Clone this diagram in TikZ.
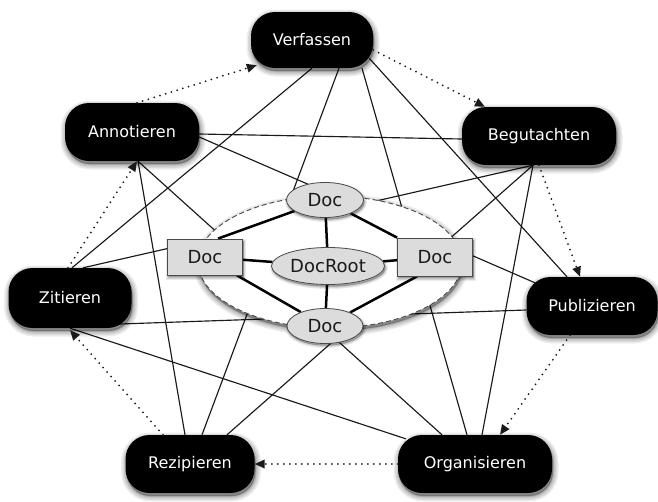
\documentclass[tikz,border=0pt]{standalone}
\usepackage{fontspec}
\setmainfont{DejaVu Sans}
\usetikzlibrary{arrows.meta,shapes.geometric}
\pgfdeclarelayer{back}
\pgfdeclarelayer{links}
\pgfdeclarelayer{pool}
\pgfdeclarelayer{bonds}
\pgfsetlayers{back,links,pool,bonds,main}
\definecolor{docfill}{HTML}{DCDCDC}
\definecolor{docline}{HTML}{4A4A4A}
\definecolor{ink}{HTML}{1A1A1A}
\tikzset{
  % soft shadow built from a few translucent halos
  halo/.style 2 args={preaction={solid, fill=black, fill opacity=#2,
      draw=black, draw opacity=#2, line width=#1,
      transform canvas={xshift=1pt, yshift=-3pt}}},
  soft shadow/.style={halo={11pt}{0.07}, halo={8pt}{0.08}, halo={5pt}{0.09},
      halo={2pt}{0.12}},
  small halo/.style 2 args={preaction={solid, fill=black, fill opacity=#2,
      draw=black, draw opacity=#2, line width=#1,
      transform canvas={xshift=1pt, yshift=-2pt}}},
  small shadow/.style={small halo={5pt}{0.08}, small halo={3pt}{0.09},
      small halo={1pt}{0.1}},
}
\begin{document}
\begin{tikzpicture}[x=1pt,y=-1pt,
  activity/.style={fill=black, text=white, rounded corners=24pt,
    minimum height=58pt, inner sep=0pt,
    font=\fontsize{16}{19}\selectfont, soft shadow},
  docnode/.style={fill=docfill, draw=docline, line width=0.8pt, text=ink,
    inner sep=0pt, font=\fontsize{18}{21}\selectfont, small shadow},
  docell/.style={docnode, ellipse},
  docbox/.style={docnode, rectangle},
  container/.style={ellipse, draw=docline, dash pattern=on 5pt off 3pt,
    line width=0.9pt, fill=white, soft shadow},
  link/.style={draw=ink, line width=1.15pt},
  bond/.style={draw=black, line width=2.5pt},
  flow/.style={draw=ink, line width=2pt, line cap=round,
    dash pattern=on 0pt off 6pt,
    -{Triangle[length=10pt,width=8.5pt]}}
]
\useasboundingbox (0,0) rectangle (658,501);
\begin{pgfonlayer}{back}
  \fill[white] (0,0) rectangle (658,501);
\end{pgfonlayer}

% activities around the document pool
\node[activity, minimum width=122pt, minimum height=56pt] (V) at (312,40) {Verfassen};
\node[activity, minimum width=134pt] (A) at (132,132) {Annotieren};
\node[activity, minimum width=154pt] (B) at (539,136) {Begutachten};
\node[activity, minimum width=123pt, minimum height=60pt] (Z) at (70,298) {Zitieren};
\node[activity, minimum width=131pt] (P) at (592,306) {Publizieren};
\node[activity, minimum width=129pt] (R) at (190,464) {Rezipieren};
\node[activity, minimum width=154pt] (O) at (475,464) {Organisieren};

% document pool
\begin{pgfonlayer}{pool}
  \node[container, minimum width=264pt, minimum height=132pt] (pool) at (330,262) {};
\end{pgfonlayer}
\node[docell, minimum width=77pt, minimum height=35pt] (dt) at (325,200) {Doc};
\node[docell, minimum width=113pt, minimum height=37pt] (root) at (328,266) {DocRoot};
\node[docell, minimum width=76pt, minimum height=35pt] (db) at (325,326) {Doc};
\node[docbox, minimum width=75pt, minimum height=36pt] (dl) at (205,257) {Doc};
\node[docbox, minimum width=75pt, minimum height=38pt] (dr) at (435,257) {Doc};

% structure of the document
\begin{pgfonlayer}{bonds}
  \draw[bond] (dt) -- ([xshift=13pt]dl.north);
  \draw[bond] (dt) -- (dr.north west);
  \draw[bond] (dt) -- (root);
  \draw[bond] (dl) -- (root);
  \draw[bond] (root) -- (dr);
  \draw[bond] (root) -- (db);
  \draw[bond] (dl) -- (db);
  \draw[bond] ([xshift=-18pt]dr.south) -- (db);
\end{pgfonlayer}

% links between the activities
\begin{pgfonlayer}{links}
  \draw[link] (V.south) -- ([xshift=2pt]Z.north);
  \draw[link] ([xshift=27pt]V.south) -- ([xshift=12pt]R.north);
  \draw[link] ([xshift=50pt]V.south) -- ([xshift=-8pt]O.north);
  \draw[link] ([xshift=-4pt,yshift=10pt]V.south east) -- ([xshift=-25pt]P.north);
  \draw[link] ([yshift=-2pt]A.east) -- ([yshift=-3pt]B.west);
  \draw[link] ([yshift=-5pt]A.east) -- ([xshift=-57pt,yshift=-6pt]P.north);
  \draw[link] ([xshift=6pt]A.south) -- ([xshift=-5pt]R.north);
  \draw[link] ([xshift=6pt]A.south) -- ([xshift=-33pt]O.north);
  \draw[link] ([xshift=13pt]Z.north) -- ([xshift=-6pt]B.south);
  \draw[link] ([xshift=-12pt,yshift=-26pt]Z.east) -- ([yshift=-4pt]P.west);
  \draw[link] ([xshift=8pt,yshift=-4pt]O.north west) -- (Z.south);
  \draw[link] ([xshift=37pt]R.north) -- ([xshift=-6pt]B.south);
  \draw[link] ([xshift=-6pt]B.south) -- ([xshift=7pt]O.north);
\end{pgfonlayer}

% workflow cycle
\draw[flow] ([xshift=5pt]A.north) -- ([xshift=6pt,yshift=3pt]V.south west);
\draw[flow] ([yshift=-10pt]V.east) -- ([xshift=-54pt]B.north);
\draw[flow] (B.south) -- ([xshift=-12pt]P.north);
\draw[flow] ([xshift=-22pt]P.south) -- ([xshift=25pt]O.north);
\draw[flow] (O.west) -- (R.east);
\draw[flow] ([xshift=-27pt]R.north) -- ([yshift=-2pt]Z.south);
\draw[flow] ([xshift=-2pt]Z.north) -- ([xshift=5pt]A.south);
\end{tikzpicture}
\end{document}
